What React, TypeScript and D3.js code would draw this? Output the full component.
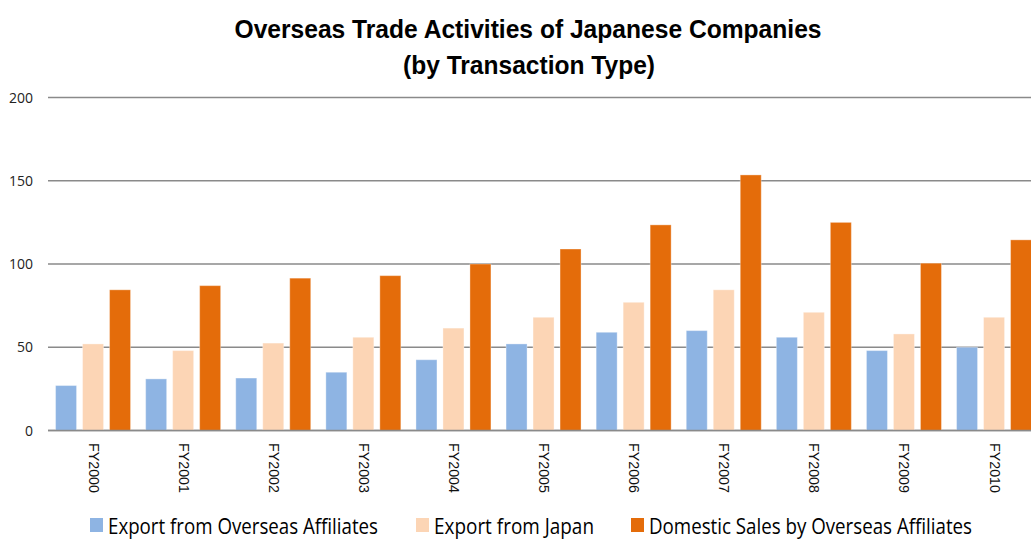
import React from "react";
import * as d3 from "d3";

const categories = ["FY2000", "FY2001", "FY2002", "FY2003", "FY2004", "FY2005", "FY2006", "FY2007", "FY2008", "FY2009", "FY2010"];
const exportFromOverseas = [27, 31, 31.5, 35, 42.5, 52, 59, 60, 56, 48, 50];
const exportFromJapan = [52, 48, 52.5, 56, 61.5, 68, 77, 84.5, 71, 58, 68];
const domesticSales = [84.5, 87, 91.5, 93, 100, 109, 123.5, 153.5, 125, 100.5, 114.5];
const seriesNames = ["Export from Overseas Affiliates", "Export from Japan", "Domestic Sales by Overseas Affiliates"];
const seriesColors = ["#8EB4E3", "#FCD5B5", "#E46C0A"];
const yTicks = [0, 50, 100, 150, 200];
const titleLines = ["Overseas Trade Activities of Japanese Companies", "(by Transaction Type)"];

const W = 1031;
const H = 539;

export default function App() {
  const series = [exportFromOverseas, exportFromJapan, domesticSales];
  const x0 = d3.scaleBand<string>().domain(categories).range([48, 48 + 11 * 90.1]).padding(0);
  const x1 = d3
    .scaleBand<number>()
    .domain([0, 1, 2])
    .range([0, x0.bandwidth()])
    .paddingInner(6 / 27)
    .paddingOuter(0.28);
  const y = d3.scaleLinear().domain([0, 200]).range([430.5, 97.5]);

  const legendItems = [
    { sq: 90, tx: 108, len: 270 },
    { sq: 416, tx: 434, len: 160 },
    { sq: 631, tx: 649, len: 323 },
  ];

  return (
    <svg width={W} height={H} style={{ position: "absolute", left: 0, top: 0, background: "#fff" }}>
      <rect x={0} y={0} width={W} height={H} fill="#fff" />
      {/* title */}
      <text x={528} y={38} textAnchor="middle" fontFamily="Liberation Sans, Arial, sans-serif" fontWeight="bold" fontSize={26} textLength={587} lengthAdjust="spacingAndGlyphs" fill="#000">
        {titleLines[0]}
      </text>
      <text x={529} y={74} textAnchor="middle" fontFamily="Liberation Sans, Arial, sans-serif" fontWeight="bold" fontSize={26} textLength={252} lengthAdjust="spacingAndGlyphs" fill="#000">
        {titleLines[1]}
      </text>
      {/* gridlines */}
      {yTicks.map((t) => (
        <g key={t}>
          <line x1={48} x2={W} y1={y(t)} y2={y(t)} stroke="#8a8a8a" strokeWidth={1.4} />
          <text x={33} y={y(t)} dy="0.36em" textAnchor="end" fontFamily="Open Sans, sans-serif" fontSize={14.5} textLength={t === 0 ? 8 : t >= 100 ? 24 : 16} lengthAdjust="spacingAndGlyphs" fill="#222">
            {t}
          </text>
        </g>
      ))}
      {/* bars */}
      {categories.map((c, i) => (
        <g key={c} transform={`translate(${x0(c)},0)`}>
          {series.map((s, k) => (
            <rect
              key={k}
              x={x1(k)}
              y={y(s[i])}
              width={x1.bandwidth()}
              height={y(0) - y(s[i])}
              fill={seriesColors[k]}
              stroke="#ffffff"
              strokeOpacity={0.35}
              strokeWidth={1}
            />
          ))}
          <text
            transform={`translate(${x0.bandwidth() / 2 + 0.5},443) rotate(90)`}
            dominantBaseline="central"
            fontFamily="Liberation Sans, Arial, sans-serif"
            fontSize={14.5}
            textLength={50}
            lengthAdjust="spacingAndGlyphs"
            fill="#111"
          >
            {c}
          </text>
        </g>
      ))}
      <line x1={48} x2={W} y1={y(0)} y2={y(0)} stroke="#8a8a8a" strokeWidth={1.4} />
      {/* legend */}
      {legendItems.map((l, k) => (
        <g key={k}>
          <rect x={l.sq} y={518} width={13} height={14} fill={seriesColors[k]} />
          <text x={l.tx} y={534} fontFamily="Open Sans, sans-serif" fontSize={21.5} textLength={l.len} lengthAdjust="spacingAndGlyphs" fill="#000">
            {seriesNames[k]}
          </text>
        </g>
      ))}
    </svg>
  );
}
